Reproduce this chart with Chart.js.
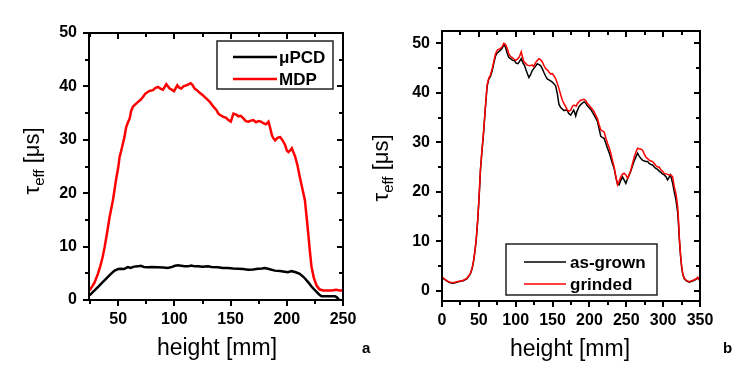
<!DOCTYPE html>
<html><head><meta charset="utf-8">
<script src="https://cdn.jsdelivr.net/npm/chart.js@4.4.0/dist/chart.umd.min.js"></script>
<style>
html,body{margin:0;padding:0;background:#fff;width:734px;height:378px;overflow:hidden}
.box{position:absolute;top:0;height:378px}
canvas{display:block}
</style></head><body>
<div class="box" style="left:0;width:380px"><canvas id="ca" width="380" height="378"></canvas></div>
<div class="box" style="left:367px;width:367px"><canvas id="cb" width="367" height="378"></canvas></div>
<script>
// ---------- Panel a ----------
const heightMDP = [24.5,27,29,31.9,34,36,37.9,40,42.3,45.3,48.2,50,51.2,52.5,54.2,55.5,57.1,58.5,60.2,61.5,63.1,65,67.6,70,72,74,76.5,78.5,80.9,83,85.4,87.5,89.8,92.8,95.8,97.5,99.6,102.6,104,106.1,108,110.6,112.5,114.5,116,118,120,122.5,125,127,129,131.5,134.7,137.3,139.1,141,143.6,146,148,150.2,152.5,155,157,159,161.4,163.5,165.9,168,170.3,172.5,174.8,177,179.2,181.5,183.7,185,186.7,188,189.6,192,194.1,196.5,198.6,200,201.5,203,204.5,206,207.5,209.5,211.9,214,216.1,217.5,219.1,220.5,222,224,226.5,229,232.4,236,240,244,247,250];
const tauMDP =    [1.8,2.6,3.3,4.9,6.3,7.9,9.9,12.5,15.5,18.7,22.7,24.8,26.8,27.8,29.3,30.5,32.4,33.2,34,35.4,36.2,36.6,37.1,37.5,38,38.6,39,39.2,39.3,39.7,39.9,39.6,39.4,40.4,39.6,39.4,39.1,40.2,39.8,39.6,40.0,40.2,40.4,40.6,40.3,39.6,39.3,38.8,38.4,38.0,37.6,37.1,36.2,35.6,34.9,34.6,34.3,34.1,33.7,33.4,34.9,34.7,34.4,34.5,34.0,33.5,33.4,33.6,33.7,33.3,33.5,33.4,33.1,32.9,33.4,32.4,30.9,30.3,29.9,30.4,30.5,29.8,29.0,28.0,27.7,28.0,28.4,27.6,26.8,25.2,22.7,20.7,18.7,15.8,12.4,9.2,6.2,4.2,2.7,2.0,1.8,1.8,1.8,1.9,1.8,1.8];
const heightPCD = [24.5,28,31.9,35.5,39.3,43,46.8,50,52.7,55,58.6,61,64,67.5,70,73,76.4,80,85.3,90,94.2,98,100.5,103.2,106,109,112.1,115,118,121,125,129.9,133,138.8,143,147.7,152,156.6,161,165.5,170,174.4,178,180.4,184,189.3,194,198.2,201,204.1,208,211.5,215,219,222.5,226.5,229,231,236,240,242.9,244.5,245.8,247];
const tauPCD =    [0.85,1.6,2.4,3.2,4.0,4.8,5.5,5.8,5.85,5.8,6.15,6.0,6.25,6.3,6.4,6.2,6.15,6.2,6.15,6.1,6.0,6.2,6.4,6.5,6.4,6.3,6.3,6.45,6.3,6.3,6.25,6.3,6.2,6.15,6.0,6.0,5.9,5.85,5.8,5.65,5.7,5.85,5.9,6.0,5.8,5.5,5.45,5.3,5.2,5.4,5.2,4.9,4.3,3.35,2.4,1.5,1.0,0.7,0.7,0.7,0.7,0.5,0.2,0.0];
const xMajorA = [50,100,150,200,250];
const xMinorA = [25,75,125,175,225];
const yMajorA = [0,10,20,30,40,50];
const yMinorA = [5,15,25,35,45];
const legendA = ['\u03BCPCD','MDP'];

// ---------- Panel b ----------
const heightGrinded = [0,3,6.8,11,15.8,20,24.9,29,34,38.5,41,43,45,46.7,48.3,49.8,51,52.1,54,56.6,58.5,61.2,63.5,65.7,68,70.2,72.5,74.8,77,79.3,81.5,83.8,86,88.4,90.5,92.9,95.5,98.4,100.5,102.9,105,107.5,109,111,113,115.6,119,122.4,124.5,126.9,129,131.4,133.5,136,138,140.5,143,145,147.5,149.7,152,154.1,156.5,158.6,161,163.3,165.5,167.8,170,172,174.6,177,179,182,184,185.9,188,190.5,192.7,195,197,199.5,202,204,206.3,208.5,210.9,213,215.4,217.5,219.9,222,224.5,227,229,231,233.5,236,238.1,240,242.6,245,247.1,249.5,251.7,254,256.2,258.5,260.7,263,265.3,267.5,270,272.1,274.5,276.5,278.9,281,283.4,285.7,288,290,292.5,294.7,297,299,301.5,304,306,308.3,310.5,312.9,314,315.1,317.5,319.7,321,321.9,323.5,325.2,326.8,328.7,332,335.5,339,342.3,345,346.9,348.5,350];
const tauGrinded =    [2.8,2.4,1.96,1.7,1.6,1.8,1.96,2.1,2.5,3.5,4.6,6.2,8.4,10.9,14,17.7,21,24.4,28,32.5,36.5,41.6,43.0,43.6,44.8,46.3,47.8,48.6,48.8,49.0,49.3,50.0,49.8,49.0,48.0,47.3,47.1,46.7,46.6,46.9,47.3,48.3,47.4,46.3,46.0,45.6,45.5,45.6,45.3,46.1,46.5,46.9,46.7,46.3,45.6,44.9,44.6,44.2,43.8,43.9,43.4,42.9,41.9,40.9,39.6,38.5,37.8,37.2,36.5,36.3,36.5,37.3,37.5,37.3,37.9,38.2,38.5,38.6,38.7,38.4,37.9,37.5,37.0,36.7,36.2,35.5,34.8,33.6,32.5,32.3,32.1,31.0,29.8,28.8,27.8,26.5,25.0,23.0,21.4,22.0,23.0,23.6,23.7,23.4,22.7,23.4,24.4,25.7,27.0,28.0,28.8,28.7,28.6,28.4,27.6,27.0,26.7,26.4,26.2,26.1,25.7,25.3,25.0,25.0,24.4,24.2,23.7,23.6,23.5,23.4,23.4,23.0,22.0,21.0,19.5,17.0,14.0,10.9,7.5,4.8,3.3,2.5,2.0,1.8,2.0,2.2,2.4,2.7,2.3,2.2];
const heightAsGrown = [0,3,6.8,11,15.8,20,24.9,29,34,38.5,41,43,45,46.7,48.3,49.8,51,52.1,54,56.6,58.5,61.2,63.5,65.7,68,70.2,72.5,74.8,77,79.3,81.5,83.8,86,88.4,90.5,92.9,95.5,98.4,100.5,102.9,105,107.5,110,112,114,116,117.9,120,122.4,125,127,129.2,131.5,133.7,136,138.3,140.5,142.8,145,147.3,150,152,154.1,156.5,158.6,161,163.3,165.5,167.8,170,172,174.6,176.5,178.6,180,181.4,183,185.9,188,190.5,192.7,195,197,199.5,202,204,206.3,208.5,210.9,213,215.4,217.5,219.9,222,224.5,227,229,231,233.5,236,238,240.3,242.5,244.9,247,249.4,251.5,253.9,256.2,258.5,260.7,263,265.3,267.5,269.8,272,274.5,276.5,278.9,281,283.4,285.7,288,290,292.5,295,297,299,301.5,304,306,308,309.7,311,312.9,315,317.4,319.7,321,321.9,323.5,325.2,326.8,328.7,332,335.5,339,342.3,345,346.9,348.5,350];
const tauAsGrown =    [2.6,2.3,1.9,1.6,1.5,1.7,1.9,2.0,2.4,3.4,4.5,6.1,8.3,10.8,13.9,17.5,20.8,24.2,27.8,32.3,36.3,41.3,42.8,43.3,44.4,45.9,47.4,48.0,48.3,48.6,49.0,49.7,49.3,48.0,47.2,46.9,46.6,46.5,46.0,45.9,46.3,46.9,46.0,45.5,44.6,43.8,43.1,43.6,44.5,45.0,45.4,45.9,45.7,45.5,44.9,44.1,43.4,42.8,42.6,42.4,42.1,41.8,41.4,39.8,37.7,37.0,36.7,36.4,36.5,36.4,35.8,35.5,36.0,36.5,36.0,35.3,36.2,37.2,37.6,37.9,38.2,37.9,37.4,37.0,36.6,36.1,35.5,34.9,34.2,32.8,31.2,31.0,30.8,29.9,28.8,27.8,26.8,25.8,24.7,22.8,21.6,21.4,22.3,23.0,22.4,21.7,22.5,23.4,24.2,25.3,26.2,27.0,27.8,27.2,26.7,26.4,26.2,26.1,26.1,25.7,25.5,25.4,25.0,24.7,24.5,24.1,23.9,23.6,23.4,23.0,22.4,22.9,23.4,22.8,21.7,20.0,18.3,15.8,13.0,10.5,7.2,4.6,3.2,2.4,1.9,1.7,1.9,2.1,2.3,2.6,2.2,2.1];
const xMajorB = [0,50,100,150,200,250,300,350];
const xMinorB = [25,75,125,175,225,275,325];
const yMajorB = [0,10,20,30,40,50];
const yMinorB = [5,15,25,35,45];
const legendB = ['as-grown','grinded'];

const FONT = "'Liberation Sans', Arial, sans-serif";
const toPts = (xs, ys) => xs.map((x, i) => ({x: x, y: ys[i]}));

function decor(o) {
  return {
    id: 'decor' + o.tag,
    afterDraw(chart) {
      const ctx = chart.ctx, a = chart.chartArea, xs = chart.scales.x, ys = chart.scales.y;
      ctx.save();
      ctx.strokeStyle = '#000';
      ctx.lineWidth = 2;
      ctx.lineCap = 'butt';
      ctx.strokeRect(a.left, a.top, a.right - a.left, a.bottom - a.top);
      const xt = (vals, L) => vals.forEach(v => {
        const p = Math.round(xs.getPixelForValue(v));
        ctx.beginPath();
        ctx.moveTo(p, a.bottom); ctx.lineTo(p, a.bottom + L);
        ctx.moveTo(p, a.top); ctx.lineTo(p, a.top + L);
        ctx.stroke();
      });
      const yt = (vals, L) => vals.forEach(v => {
        const p = Math.round(ys.getPixelForValue(v));
        ctx.beginPath();
        ctx.moveTo(a.left - L, p); ctx.lineTo(a.left, p);
        ctx.moveTo(a.right - L, p); ctx.lineTo(a.right, p);
        ctx.stroke();
      });
      xt(o.xMajor, 6); xt(o.xMinor, 4);
      yt(o.yMajor, 6); yt(o.yMinor, 4);

      // legend
      const lg = o.legend;
      ctx.fillStyle = '#fff';
      ctx.fillRect(lg.x, lg.y, lg.w, lg.h);
      ctx.lineWidth = 1.5;
      ctx.strokeStyle = '#222';
      ctx.strokeRect(lg.x, lg.y, lg.w, lg.h);
      ctx.font = 'bold ' + lg.fs + 'px ' + FONT;
      ctx.textBaseline = 'middle';
      ctx.textAlign = 'left';
      lg.items.forEach((it, i) => {
        const yy = lg.rows[i];
        ctx.strokeStyle = it.color;
        ctx.lineWidth = lg.lw;
        ctx.beginPath(); ctx.moveTo(lg.l1, yy); ctx.lineTo(lg.l2, yy); ctx.stroke();
        ctx.fillStyle = '#000';
        ctx.fillText(it.text, lg.tx, yy + 1);
      });

      // x title
      ctx.fillStyle = '#000';
      ctx.font = '23px ' + FONT;
      ctx.textAlign = 'center';
      ctx.textBaseline = 'middle';
      ctx.fillText('height [mm]', o.xt.x, o.xt.y);
      // panel letter
      ctx.font = 'bold 15px ' + FONT;
      ctx.textAlign = 'left';
      ctx.fillText(o.letter.t, o.letter.x, o.letter.y);

      // y title with subscript
      ctx.save();
      ctx.translate(o.yt.x, o.yt.y);
      ctx.rotate(-Math.PI / 2);
      const f1 = '22px ' + FONT, f2 = '15px ' + FONT;
      ctx.font = f1; const w1 = ctx.measureText('\u03C4').width;
      ctx.font = f2; const w2 = ctx.measureText('eff').width;
      ctx.font = f1; const w3 = ctx.measureText(' [\u03BCs]').width;
      let x0 = -(w1 + w2 + w3) / 2;
      ctx.textAlign = 'left';
      ctx.textBaseline = 'middle';
      ctx.font = f1; ctx.fillText('\u03C4', x0, 0);
      ctx.font = f2; ctx.fillText('eff', x0 + w1, 7);
      ctx.font = f1; ctx.fillText(' [\u03BCs]', x0 + w1 + w2, 0);
      ctx.restore();
      ctx.restore();
    }
  };
}

function scaleOpts(min, max, major, fitSize, pad) {
  return {
    type: 'linear', min: min, max: max,
    grid: {display: false, drawTicks: false},
    border: {display: false},
    ticks: {color: '#000', font: {family: FONT, size: 16, weight: 'bold'}, padding: pad, autoSkip: false, maxRotation: 0},
    afterBuildTicks: s => { s.ticks = major.map(v => ({value: v})); },
    afterFit: s => { if (s.isHorizontal()) s.height = fitSize; else s.width = fitSize; }
  };
}

new Chart(document.getElementById('ca'), {
  type: 'line',
  data: {datasets: [
    {label: legendA[0], data: toPts(heightPCD, tauPCD), borderColor: '#000', borderWidth: 2.5, order: 1},
    {label: legendA[1], data: toPts(heightMDP, tauMDP), borderColor: '#ff0000', borderWidth: 2.5, order: 2}
  ]},
  options: {
    responsive: false, animation: false, parsing: false,
    layout: {padding: {left: 0, right: 37, top: 33, bottom: 0}},
    plugins: {legend: {display: false}, tooltip: {enabled: false}},
    elements: {point: {radius: 0}, line: {tension: 0}},
    scales: {x: scaleOpts(24, 250, xMajorA, 78, 10), y: scaleOpts(0, 50, yMajorA, 89, 12)}
  },
  plugins: [decor({tag: 'a', xMajor: xMajorA, xMinor: xMinorA, yMajor: yMajorA, yMinor: yMinorA,
    legend: {x: 217, y: 41, w: 116, h: 48, rows: [57, 79], l1: 233, l2: 277, tx: 279, fs: 17, lw: 2.5,
      items: [{text: legendA[0], color: '#000'}, {text: legendA[1], color: '#ff0000'}]},
    xt: {x: 217, y: 349}, yt: {x: 33, y: 161}, letter: {t: 'a', x: 362, y: 349}})]
});

new Chart(document.getElementById('cb'), {
  type: 'line',
  data: {datasets: [
    {label: legendB[0], data: toPts(heightAsGrown, tauAsGrown), borderColor: '#000', borderWidth: 1.5, order: 2},
    {label: legendB[1], data: toPts(heightGrinded, tauGrinded), borderColor: '#ff0000', borderWidth: 1.5, order: 1}
  ]},
  options: {
    responsive: false, animation: false, parsing: false,
    layout: {padding: {left: 0, right: 34, top: 31, bottom: 0}},
    plugins: {legend: {display: false}, tooltip: {enabled: false}},
    elements: {point: {radius: 0}, line: {tension: 0}},
    scales: {x: scaleOpts(0, 350, xMajorB, 77, 10), y: scaleOpts(-2.1, 52.5, yMajorB, 75, 12)}
  },
  plugins: [decor({tag: 'b', xMajor: xMajorB, xMinor: xMinorB, yMajor: yMajorB, yMinor: yMinorB,
    legend: {x: 139, y: 244, w: 151, h: 51, rows: [262, 284], l1: 157, l2: 199, tx: 203, fs: 17, lw: 1.5,
      items: [{text: legendB[0], color: '#000'}, {text: legendB[1], color: '#ff0000'}]},
    xt: {x: 203, y: 350}, yt: {x: 15, y: 168}, letter: {t: 'b', x: 356, y: 349}})]
});
</script>
</body></html>
